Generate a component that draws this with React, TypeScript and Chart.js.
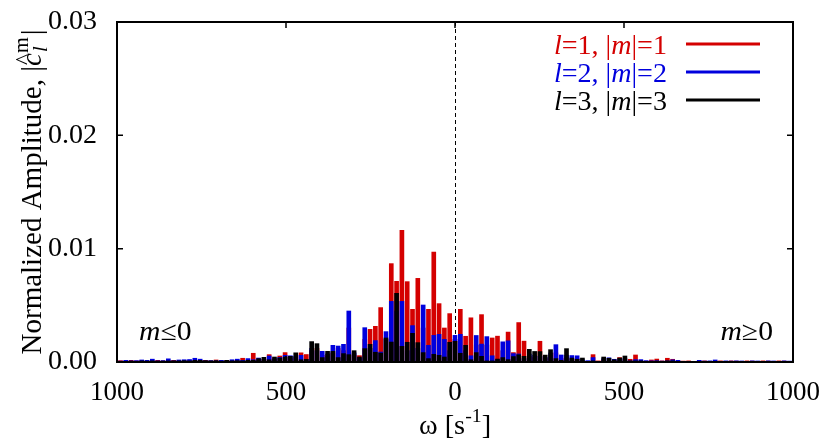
import React, { useEffect, useRef } from 'react';
import { Chart, registerables } from 'chart.js';

Chart.register(...registerables);

// angular frequency bins omega [1/s], k = -63 .. 63
const OMEGA: number[] = [
  -989.6, -973.9, -958.2, -942.5, -926.8, -911.1, -895.4, -879.6, -863.9, -848.2,
  -832.5, -816.8, -801.1, -785.4, -769.7, -754.0, -738.3, -722.6, -706.9, -691.2,
  -675.4, -659.7, -644.0, -628.3, -612.6, -596.9, -581.2, -565.5, -549.8, -534.1,
  -518.4, -502.7, -487.0, -471.2, -455.5, -439.8, -424.1, -408.4, -392.7, -377.0,
  -361.3, -345.6, -329.9, -314.2, -298.5, -282.7, -267.0, -251.3, -235.6, -219.9,
  -204.2, -188.5, -172.8, -157.1, -141.4, -125.7, -110.0, -94.2, -78.5, -62.8,
  -47.1, -31.4, -15.7, 0, 15.7, 31.4, 47.1, 62.8, 78.5, 94.2,
  110.0, 125.7, 141.4, 157.1, 172.8, 188.5, 204.2, 219.9, 235.6, 251.3,
  267.0, 282.7, 298.5, 314.2, 329.9, 345.6, 361.3, 377.0, 392.7, 408.4,
  424.1, 439.8, 455.5, 471.2, 487.0, 502.7, 518.4, 534.1, 549.8, 565.5,
  581.2, 596.9, 612.6, 628.3, 644.0, 659.7, 675.4, 691.2, 706.9, 722.6,
  738.3, 754.0, 769.7, 785.4, 801.1, 816.8, 832.5, 848.2, 863.9, 879.6,
  895.4, 911.1, 926.8, 942.5, 958.2, 973.9, 989.6,
];

// l=1, |m|=1
const AMP_L1: number[] = [
  0.00012, 0.00008, 0.00015, 0.0001, 0.00012, 0.0001, 0.00008, 0.00015, 0.0001, 0.00012,
  0.00015, 0.00012, 0.0001, 0.00015, 0.0001, 0.00012, 0.00015, 0.0001, 0.00018, 0.0001,
  0.00012, 0.00015, 0.0001, 0.00033, 0.0001, 0.00077, 0.0002, 0.0002, 0.00065, 0.0002,
  0.00053, 0.00083, 0.0003, 0.0004, 0.00081, 0.00066, 0.001, 0.0012, 0.0006, 0.0005,
  0.0008, 0.0012, 0.001, 0.003, 0.0006, 0.00056, 0.002, 0.00288, 0.00315, 0.0048,
  0.002, 0.00868, 0.00712, 0.01162, 0.00709, 0.00465, 0.00738, 0.003, 0.00465, 0.0097,
  0.00515, 0.003, 0.00427, 0.002, 0.00465, 0.00227, 0.0039, 0.0015, 0.00418, 0.0015,
  0.00212, 0.00228, 0.001, 0.00264, 0.00083, 0.00348, 0.00184, 0.0005, 0.0004, 0.00183,
  0.0003, 0.0006, 0.0008, 0.0003, 0.0004, 0.0002, 0.0003, 0.0001, 0.00005, 0.00065,
  0.0001, 0.0002, 0.0001, 0.0001, 0.00039, 0.0002, 0.00024, 0.00062, 0.0001, 0.00008,
  0.00018, 0.00026, 0.0001, 0.00033, 0.00024, 0.0001, 0.00008, 0.0001, 0.00005, 0.00006,
  0.0001, 0.00006, 0.00008, 0.0001, 0.00006, 0.0001, 0.00008, 0.00006, 0.0001, 0.00008,
  0.00005, 0.0001, 0.00008, 0.00006, 0.0001, 0.00008, 0.00006,
];

// l=2, |m|=2
const AMP_L2: number[] = [
  0.00008, 0.00015, 0.0001, 0.00012, 0.00018, 0.00015, 0.00025, 0.0001, 0.00012, 0.00028,
  0.0001, 0.00018, 0.0002, 0.00022, 0.00033, 0.00025, 0.0001, 0.00012, 0.0001, 0.00015,
  0.0001, 0.0002, 0.00025, 0.00015, 0.0003, 0.0002, 0.00035, 0.00025, 0.00053, 0.0003,
  0.0004, 0.00059, 0.00055, 0.0005, 0.00059, 0.0002, 0.0012, 0.001, 0.00094, 0.0007,
  0.00147, 0.00141, 0.00156, 0.0045, 0.0008, 0.0003, 0.00303, 0.0012, 0.00189, 0.00088,
  0.00268, 0.00535, 0.0045, 0.00535, 0.001, 0.00321, 0.0012, 0.00503, 0.00147, 0.00235,
  0.00244, 0.002, 0.001, 0.00235, 0.00244, 0.001, 0.00055, 0.00234, 0.00158, 0.00224,
  0.00055, 0.0002, 0.00178, 0.00187, 0.00074, 0.00071, 0.0003, 0.0007, 0.0006, 0.0005,
  0.0004, 0.0008, 0.00153, 0.00062, 0.0006, 0.00057, 0.00055, 0.0002, 0.00012, 0.00039,
  0.00005, 0.0003, 0.00037, 0.00024, 0.0002, 0.0003, 0.0001, 0.00021, 0.00021, 0.00012,
  0.0001, 0.00012, 0.00008, 0.0001, 0.00019, 0.00015, 0.00006, 0.00006, 0.00006, 0.00015,
  0.00008, 0.0001, 0.00018, 0.00006, 0.0001, 0.00008, 0.0001, 0.00009, 0.00006, 0.0001,
  0.00009, 0.00006, 0.0001, 0.00009, 0.00006, 0.0001, 0.00008,
];

// l=3, |m|=3
const AMP_L3: number[] = [
  0.00005, 0.00005, 0.00008, 0.00006, 0.0001, 0.00008, 0.0001, 0.00008, 0.00008, 0.0001,
  0.0001, 0.0001, 0.00012, 0.0001, 0.00015, 0.00015, 0.00012, 0.0001, 0.00012, 0.00008,
  0.00015, 0.0001, 0.00012, 0.0001, 0.00015, 0.00015, 0.0003, 0.00041, 0.0002, 0.00044,
  0.00035, 0.00044, 0.0005, 0.00081, 0.0002, 0.00024, 0.0018, 0.00162, 0.00039, 0.00094,
  0.00094, 0.00039, 0.00074, 0.00065, 0.001, 0.00044, 0.00118, 0.00156, 0.00086, 0.00079,
  0.00212, 0.00176, 0.00606, 0.00138, 0.00174, 0.00253, 0.00171, 0.00083, 0.0003, 0.00068,
  0.00059, 0.00044, 0.00174, 0.00183, 0.00077, 0.00147, 0.0002, 0.00083, 0.0005, 0.0001,
  0.0001, 0.00026, 0.00039, 0.00021, 0.00048, 0.00064, 0.0005, 0.00112, 0.00093, 0.00092,
  0.00061, 0.00109, 0.0003, 0.00015, 0.00118, 0.00035, 0.00024, 0.00035, 0.00005, 0.0001,
  0.00005, 0.00044, 0.00033, 0.0002, 0.00035, 0.00053, 0.0001, 0.0001, 0.0001, 0.00005,
  0.00005, 0.00008, 0.00005, 0.0001, 0.0001, 0.00005, 0.00004, 0.00004, 0.00004, 0.00004,
  0.00004, 0.00004, 0.00005, 0.00004, 0.00004, 0.00004, 0.00004, 0.00004, 0.00004, 0.00004,
  0.00004, 0.00004, 0.00004, 0.00004, 0.00004, 0.00004, 0.00004,
];

const SERIES_L = [1, 2, 3];
const SERIES_COLORS = ['#d40000', '#0000dd', '#000000'];
const X_TICKS = [-1000, -500, 0, 500, 1000];
const Y_TICKS = [0, 0.01, 0.02, 0.03];

const SERIF = '"Liberation Serif", "Times New Roman", Times, serif';
const fnt = (size: number, italic?: boolean) => `${italic ? 'italic ' : ''}${size}px ${SERIF}`;

type Seg = { t: string; it?: boolean; s?: number; dy?: number };

function segsWidth(ctx: CanvasRenderingContext2D, segs: Seg[], size: number) {
  let w = 0;
  for (const g of segs) {
    ctx.font = fnt(size * (g.s ?? 1), g.it);
    w += ctx.measureText(g.t).width;
  }
  return w;
}

function drawSegs(
  ctx: CanvasRenderingContext2D,
  segs: Seg[],
  x: number,
  y: number,
  size: number,
  align: 'left' | 'center' | 'right',
  sx = 1
) {
  ctx.save();
  ctx.translate(x, y);
  ctx.scale(sx, 1);
  ctx.textAlign = 'left';
  ctx.textBaseline = 'alphabetic';
  const w = segsWidth(ctx, segs, size);
  let cx = align === 'right' ? -w : align === 'center' ? -w / 2 : 0;
  for (const g of segs) {
    ctx.font = fnt(size * (g.s ?? 1), g.it);
    ctx.fillText(g.t, cx, g.dy ?? 0);
    cx += ctx.measureText(g.t).width;
  }
  ctx.restore();
}

const decorPlugin = {
  id: 'decor',
  beforeDatasetsDraw(chart: any) {
    const { ctx, chartArea: a, scales } = chart;
    const x0 = scales.x.getPixelForValue(0);
    ctx.save();
    ctx.strokeStyle = '#000';
    ctx.lineWidth = 1;
    ctx.setLineDash([4, 3]);
    ctx.beginPath();
    ctx.moveTo(Math.round(x0) + 0.5, a.top);
    ctx.lineTo(Math.round(x0) + 0.5, a.bottom);
    ctx.stroke();
    ctx.restore();
  },
  afterDatasetsDraw(chart: any) {
    const { ctx, chartArea: a, scales } = chart;
    ctx.save();
    ctx.strokeStyle = '#000';
    ctx.lineWidth = 2;
    ctx.strokeRect(a.left, a.top, a.right - a.left, a.bottom - a.top);
    // inward ticks
    ctx.lineWidth = 1.5;
    const tl = 6;
    ctx.beginPath();
    for (const v of Y_TICKS) {
      const py = scales.y.getPixelForValue(v);
      ctx.moveTo(a.left, py);
      ctx.lineTo(a.left + tl, py);
      ctx.moveTo(a.right, py);
      ctx.lineTo(a.right - tl, py);
    }
    for (const v of X_TICKS) {
      const px = scales.x.getPixelForValue(v);
      ctx.moveTo(px, a.top);
      ctx.lineTo(px, a.top + tl);
      ctx.moveTo(px, a.bottom);
      ctx.lineTo(px, a.bottom - tl);
    }
    ctx.stroke();

    // legend
    const legX = 667;
    const rowY = [44, 72, 100];
    SERIES_L.forEach((l, i) => {
      ctx.fillStyle = SERIES_COLORS[i];
      drawSegs(
        ctx,
        [{ t: 'l', it: true }, { t: `=${l}, |` }, { t: 'm', it: true }, { t: `|=${l}` }],
        legX,
        rowY[i] + 10,
        27,
        'right',
        1.04
      );
      ctx.strokeStyle = SERIES_COLORS[i];
      ctx.lineWidth = 3;
      ctx.beginPath();
      ctx.moveTo(686, rowY[i]);
      ctx.lineTo(760, rowY[i]);
      ctx.stroke();
    });

    // region labels
    ctx.fillStyle = '#000';
    drawSegs(ctx, [{ t: 'm', it: true }, { t: '≤0' }], 139, 340, 27, 'left', 1.1);
    drawSegs(ctx, [{ t: 'm', it: true }, { t: '≥0' }], 773, 340, 27, 'right', 1.1);

    // x axis title
    const xc = (a.left + a.right) / 2;
    drawSegs(ctx, [{ t: 'ω [s' }, { t: '-1', s: 0.7, dy: -12 }, { t: ']' }], xc, 434, 27, 'center', 1.05);

    // y axis title
    ctx.save();
    ctx.translate(41, (a.top + a.bottom) / 2);
    ctx.rotate(-Math.PI / 2);
    const size = 29;
    const pre: Seg[] = [{ t: 'Normalized Amplitude, |' }];
    const wPre = segsWidth(ctx, pre, size);
    ctx.font = fnt(size, true);
    const wc = ctx.measureText('c').width;
    ctx.font = fnt(size * 0.7, false);
    const wm = ctx.measureText('m').width;
    ctx.font = fnt(size, false);
    const wbar = ctx.measureText('|').width;
    const total = wPre + wc + wm + 2 + wbar;
    let cx = -total / 2;
    drawSegs(ctx, pre, cx, 0, size, 'left');
    cx += wPre;
    ctx.font = fnt(size, true);
    ctx.fillText('c', cx, 0);
    ctx.font = fnt(size * 0.8, false);
    ctx.fillText('^', cx + 1, -10);
    ctx.font = fnt(size * 0.7, true);
    ctx.fillText('l', cx + wc + 1, 6);
    ctx.font = fnt(size * 0.7, false);
    ctx.fillText('m', cx + wc, -13);
    cx += wc + wm + 2;
    ctx.font = fnt(size, false);
    ctx.fillText('|', cx, 0);
    ctx.restore();

    ctx.restore();
  },
};

export default function App() {
  const ref = useRef<HTMLCanvasElement | null>(null);
  useEffect(() => {
    if (!ref.current) return;
    const mk = (amps: number[]) => OMEGA.map((x, i) => ({ x, y: amps[i] }));
    const chart = new Chart(ref.current, {
      type: 'bar',
      data: {
        datasets: [
          {
            label: 'l=1, |m|=1',
            data: mk(AMP_L1),
            backgroundColor: SERIES_COLORS[0],
            borderWidth: 0,
            barThickness: 4,
            grouped: false,
            order: 3,
          },
          {
            label: 'l=2, |m|=2',
            data: mk(AMP_L2),
            backgroundColor: SERIES_COLORS[1],
            borderWidth: 0,
            barThickness: 4,
            grouped: false,
            order: 2,
          },
          {
            label: 'l=3, |m|=3',
            data: mk(AMP_L3),
            backgroundColor: SERIES_COLORS[2],
            borderWidth: 0,
            barThickness: 4,
            grouped: false,
            order: 1,
          },
        ] as any,
      },
      options: {
        responsive: false,
        animation: false,
        devicePixelRatio: 1,
        layout: { padding: { top: 22, right: 37, left: 0, bottom: 0 } },
        plugins: { legend: { display: false }, tooltip: { enabled: false } },
        scales: {
          x: {
            type: 'linear',
            min: -1000,
            max: 1000,
            offset: false,
            grid: { display: false, drawTicks: false },
            border: { display: false },
            afterBuildTicks: (s: any) => {
              s.ticks = X_TICKS.map((v) => ({ value: v }));
            },
            afterFit: (s: any) => {
              s.height = 83;
              s.paddingLeft = 0;
              s.paddingRight = 0;
              s.paddingTop = 0;
              s.paddingBottom = 0;
            },
            ticks: {
              padding: 15,
              color: '#000',
              maxRotation: 0,
              autoSkip: false,
              font: { family: SERIF, size: 27 },
              callback: (v: any) => String(Math.abs(Number(v))),
            },
          },
          y: {
            type: 'linear',
            min: 0,
            max: 0.03,
            grid: { display: false, drawTicks: false },
            border: { display: false },
            afterBuildTicks: (s: any) => {
              s.ticks = Y_TICKS.map((v) => ({ value: v }));
            },
            afterFit: (s: any) => {
              s.width = 117;
              s.paddingLeft = 0;
              s.paddingRight = 0;
              s.paddingTop = 0;
              s.paddingBottom = 0;
            },
            ticks: {
              padding: 20,
              color: '#000',
              font: { family: SERIF, size: 28 },
              callback: (v: any) => Number(v).toFixed(2),
            },
          },
        },
      } as any,
      plugins: [decorPlugin],
    });
    return () => chart.destroy();
  }, []);
  return (
    <div style={{ position: 'absolute', left: 0, top: 0, width: 830, height: 445, background: '#fff' }}>
      <canvas ref={ref} width={830} height={445} style={{ display: 'block' }} />
    </div>
  );
}
